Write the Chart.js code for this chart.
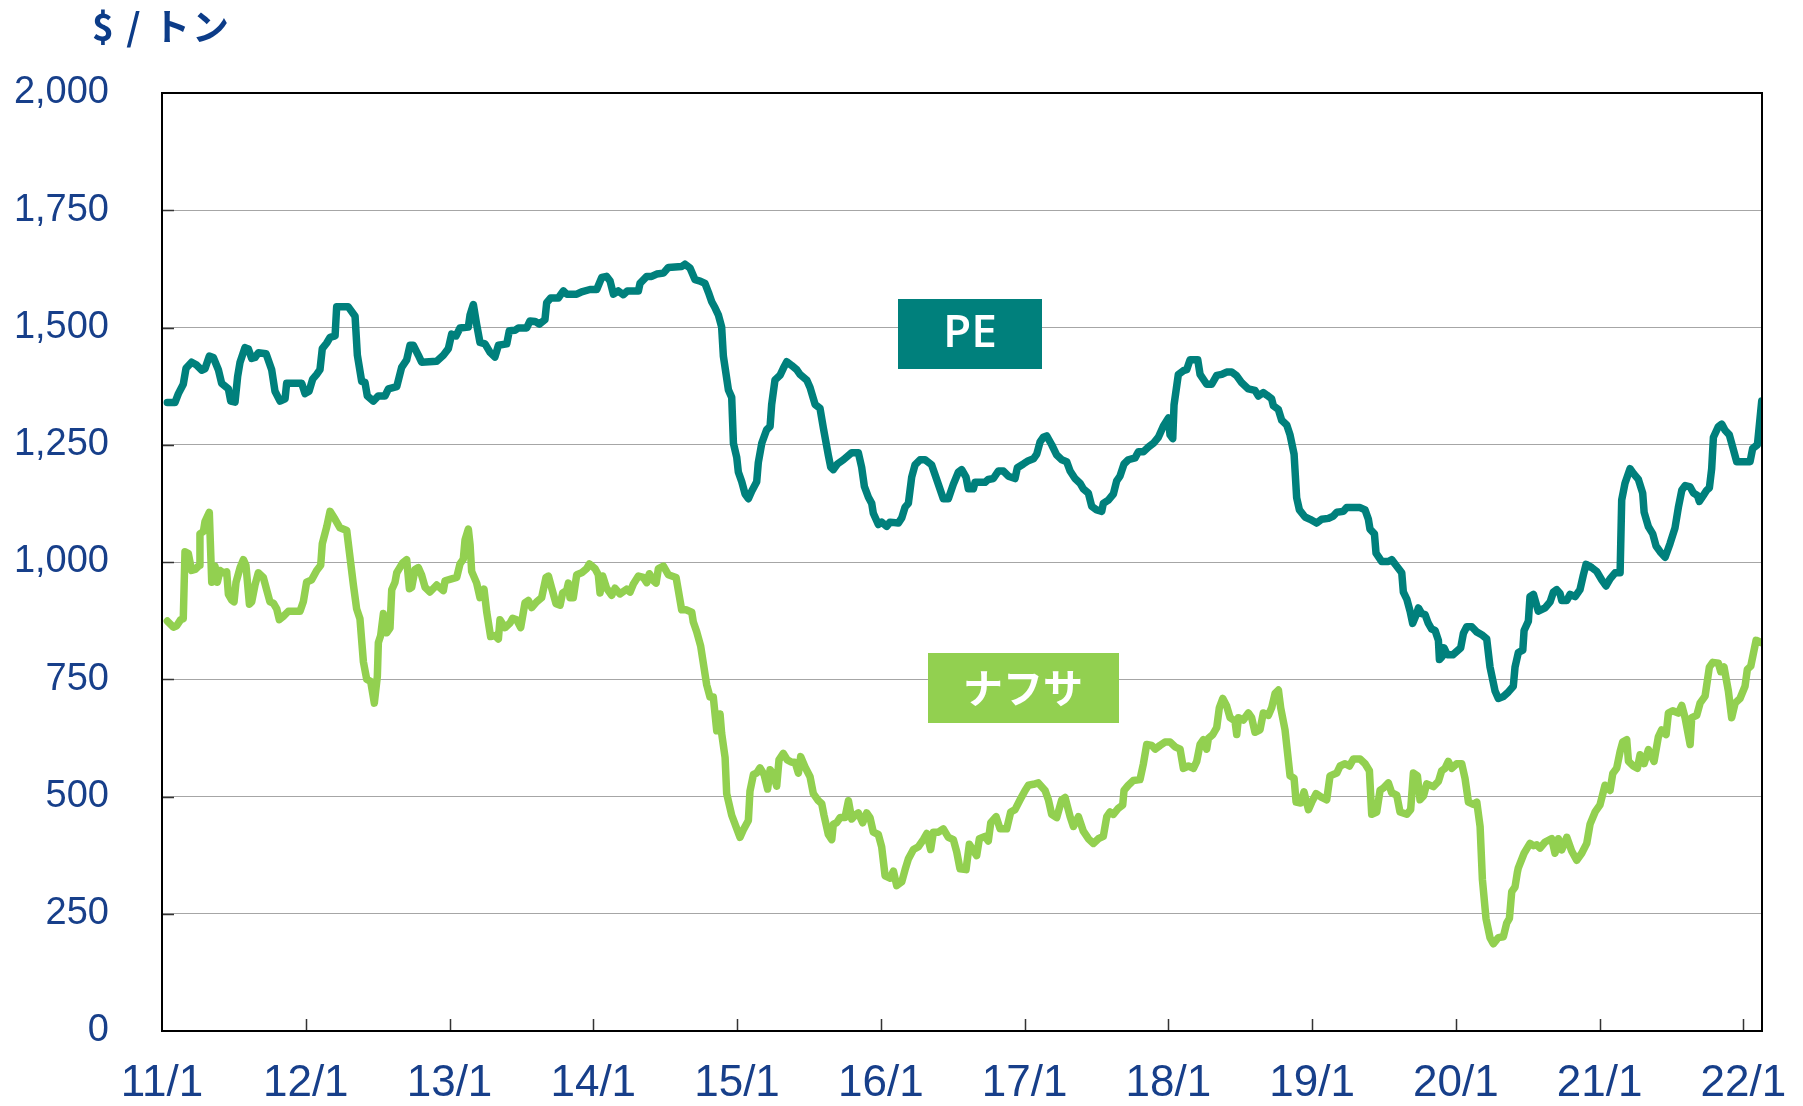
<!DOCTYPE html>
<html><head><meta charset="utf-8">
<script src="https://cdn.jsdelivr.net/npm/chart.js@4.4.1/dist/chart.umd.min.js"></script>
<style>html,body{margin:0;padding:0;background:#fff;overflow:hidden}canvas{display:block}</style>
</head><body>
<canvas id="c" width="1803" height="1106"></canvas>
<script>
const unitLabel = '$ / トン';
const seriesNames = ['PE', 'ナフサ'];
const xTickYears = [2011,2012,2013,2014,2015,2016,2017,2018,2019,2020,2021,2022];
const xTickLabels = ['11/1','12/1','13/1','14/1','15/1','16/1','17/1','18/1','19/1','20/1','21/1','22/1'];
const yTickValues = [0,250,500,750,1000,1250,1500,1750,2000];
const yTickLabels = ['0','250','500','750','1,000','1,250','1,500','1,750','2,000'];

// [date (decimal year), $/ton]
const peSeries = [
[2011.037,1340],[2011.090,1340],[2011.114,1359],[2011.148,1379],[2011.167,1413],[2011.206,1426],[2011.241,1420],[2011.276,1409],[2011.299,1412],[2011.329,1439],[2011.357,1436],[2011.392,1410],[2011.415,1381],[2011.462,1369],[2011.478,1343],[2011.508,1341],[2011.526,1395],[2011.543,1426],[2011.577,1457],[2011.601,1454],[2011.624,1434],[2011.647,1436],[2011.670,1446],[2011.724,1444],[2011.763,1410],[2011.786,1364],[2011.821,1343],[2011.856,1348],[2011.867,1381],[2011.972,1381],[2011.995,1359],
[2012.023,1364],[2012.048,1390],[2012.076,1400],[2012.099,1410],[2012.115,1455],[2012.146,1467],[2012.169,1479],[2012.204,1482],[2012.215,1544],[2012.296,1544],[2012.343,1524],[2012.359,1441],[2012.389,1385],[2012.412,1383],[2012.428,1354],[2012.470,1343],[2012.505,1354],[2012.551,1354],[2012.575,1369],[2012.633,1374],[2012.667,1415],[2012.702,1431],[2012.725,1462],[2012.748,1462],[2012.783,1441],[2012.806,1426],[2012.911,1428],
[2012.957,1441],[2012.992,1455],[2013.015,1486],[2013.045,1482],[2013.073,1499],[2013.131,1501],[2013.143,1527],[2013.166,1549],[2013.189,1506],[2013.212,1468],[2013.247,1465],[2013.282,1447],[2013.316,1437],[2013.340,1462],[2013.398,1465],[2013.416,1493],[2013.456,1494],[2013.479,1499],[2013.537,1499],[2013.560,1514],[2013.595,1513],[2013.625,1507],[2013.664,1517],[2013.676,1553],[2013.704,1563],[2013.757,1563],[2013.792,1578],[2013.815,1571],[2013.885,1571],[2013.919,1576],[2013.977,1581],
[2014.024,1581],[2014.059,1607],[2014.093,1609],[2014.117,1599],[2014.140,1571],[2014.174,1578],[2014.209,1570],[2014.237,1578],[2014.314,1578],[2014.325,1594],[2014.372,1609],[2014.406,1609],[2014.441,1614],[2014.488,1616],[2014.522,1628],[2014.615,1630],[2014.638,1635],[2014.673,1627],[2014.708,1602],[2014.743,1599],
[2014.777,1594],[2014.801,1575],[2014.824,1555],[2014.847,1542],[2014.870,1527],[2014.893,1501],[2014.905,1439],[2014.940,1367],[2014.963,1351],[2014.975,1253],[2014.998,1223],[2015.009,1192],[2015.033,1171],[2015.056,1145],[2015.079,1135],[2015.102,1151],[2015.137,1171],[2015.148,1212],[2015.172,1253],[2015.206,1282],[2015.230,1289],[2015.241,1336],[2015.264,1388],[2015.299,1398],[2015.322,1413],[2015.346,1427],[2015.380,1419],[2015.415,1410],[2015.438,1400],[2015.485,1388],[2015.508,1372],[2015.543,1336],[2015.577,1328],[2015.601,1285],[2015.635,1228],[2015.652,1202],[2015.670,1197],[2015.698,1209],[2015.740,1218],[2015.798,1233],[2015.844,1233],[2015.867,1202],[2015.886,1161],[2015.914,1138],[2015.937,1125],[2015.948,1104],[2015.983,1080],
[2016.006,1085],[2016.041,1076],[2016.064,1085],[2016.122,1083],[2016.146,1094],[2016.169,1117],[2016.192,1125],[2016.215,1181],[2016.238,1207],[2016.273,1218],[2016.308,1218],[2016.354,1207],[2016.389,1176],[2016.435,1135],[2016.470,1135],[2016.505,1166],[2016.540,1192],[2016.563,1197],[2016.593,1181],[2016.609,1156],[2016.644,1156],
[2016.656,1170],[2016.725,1170],[2016.748,1176],[2016.783,1178],[2016.818,1194],[2016.853,1194],[2016.888,1183],[2016.934,1178],[2016.950,1201],[2016.992,1209],[2017.027,1216],[2017.062,1220],[2017.085,1230],[2017.108,1256],[2017.131,1266],[2017.154,1269],[2017.189,1250],[2017.224,1228],[2017.259,1218],[2017.293,1214],[2017.317,1194],[2017.351,1178],[2017.386,1168],[2017.409,1156],[2017.444,1147],[2017.467,1119],[2017.502,1111],[2017.537,1108],[2017.548,1125],[2017.583,1132],[2017.618,1145],[2017.641,1173],[2017.664,1183],[2017.692,1209],[2017.722,1218],[2017.769,1222],[2017.792,1235],[2017.827,1235],[2017.862,1245],[2017.896,1253],[2017.931,1266],[2017.966,1290],
[2018.001,1307],[2018.012,1271],[2018.031,1263],[2018.040,1335],[2018.070,1400],[2018.105,1408],[2018.128,1410],[2018.151,1431],[2018.205,1431],[2018.221,1400],[2018.267,1379],[2018.302,1379],[2018.337,1398],[2018.372,1400],[2018.406,1405],[2018.441,1405],[2018.476,1397],[2018.511,1382],
[2018.557,1369],[2018.603,1366],[2018.627,1354],[2018.661,1361],[2018.685,1356],[2018.719,1348],[2018.731,1333],[2018.766,1325],[2018.789,1302],[2018.824,1292],[2018.847,1271],[2018.875,1230],[2018.893,1137],[2018.912,1111],[2018.951,1096],[2018.986,1091],[2019.032,1083],[2019.067,1091],[2019.114,1093],[2019.148,1098],[2019.172,1106],[2019.218,1108],[2019.241,1116],[2019.334,1116],[2019.369,1111],[2019.392,1091],[2019.403,1070],[2019.434,1060],[2019.445,1019],[2019.485,1001],[2019.531,1001],[2019.554,1005],[2019.584,993],[2019.624,977],[2019.635,936],[2019.659,921],[2019.682,895],[2019.700,869],[2019.728,890],[2019.740,902],[2019.763,890],[2019.786,888],[2019.809,869],[2019.832,857],[2019.856,854],[2019.879,833],[2019.886,792],[2019.902,797],[2019.918,817],[2019.941,802],[2019.979,802],
[2020.034,817],[2020.053,848],[2020.076,862],[2020.111,862],[2020.145,851],[2020.180,845],[2020.215,836],[2020.238,776],[2020.273,725],[2020.296,709],[2020.331,713],[2020.366,723],[2020.400,735],
[2020.412,776],[2020.435,807],[2020.466,812],[2020.475,854],[2020.505,874],[2020.516,926],[2020.540,931],[2020.574,895],[2020.621,902],[2020.656,915],[2020.679,936],[2020.702,941],[2020.725,933],[2020.737,918],[2020.772,918],[2020.795,931],[2020.830,926],[2020.864,941],[2020.887,972],[2020.906,995],[2020.946,988],[2020.980,980],
[2021.015,962],[2021.045,949],[2021.073,964],[2021.108,977],[2021.143,977],[2021.154,1132],[2021.177,1168],[2021.212,1199],[2021.235,1189],[2021.270,1176],[2021.300,1147],[2021.310,1106],[2021.340,1075],[2021.370,1060],[2021.393,1034],[2021.421,1022],[2021.456,1010],[2021.490,1039],[2021.525,1073],[2021.548,1116],[2021.572,1153],[2021.595,1163],[2021.630,1160],[2021.653,1147],[2021.681,1142],[2021.694,1129],[2021.722,1142],[2021.745,1153],[2021.764,1158],[2021.780,1199],[2021.792,1266],[2021.827,1289],[2021.850,1294],[2021.873,1281],[2021.903,1271],[2021.926,1245],[2021.954,1214],
[2022.047,1214],[2022.065,1242],[2022.098,1250],[2022.128,1343]
];

const naphthaSeries = [
[2011.037,874],[2011.079,861],[2011.102,864],[2011.130,877],[2011.148,879],[2011.160,1022],[2011.183,1018],[2011.206,982],[2011.230,984],[2011.260,993],[2011.264,1060],[2011.288,1065],[2011.299,1086],[2011.329,1106],[2011.346,957],[2011.369,991],[2011.385,957],[2011.404,982],[2011.427,977],[2011.450,979],[2011.462,931],[2011.485,919],[2011.501,915],[2011.515,957],[2011.543,988],[2011.566,1005],[2011.584,993],[2011.608,910],[2011.624,915],[2011.647,951],[2011.670,977],[2011.705,967],[2011.728,941],[2011.751,915],[2011.775,912],[2011.798,900],[2011.816,877],[2011.844,884],[2011.879,895],[2011.960,895],[2011.983,915],
[2012.006,957],[2012.041,962],[2012.076,982],[2012.104,993],[2012.115,1039],[2012.146,1075],[2012.169,1108],[2012.204,1091],[2012.238,1073],[2012.285,1067],[2012.331,952],[2012.354,900],[2012.377,879],[2012.401,787],[2012.424,750],[2012.452,745],[2012.477,699],[2012.498,756],[2012.505,828],[2012.521,843],[2012.540,890],[2012.563,849],[2012.586,859],[2012.598,941],[2012.621,957],[2012.633,977],[2012.674,998],[2012.702,1005],[2012.721,943],[2012.737,946],[2012.760,984],[2012.783,988],[2012.806,972],[2012.830,946],[2012.864,936],[2012.911,951],
[2012.957,939],[2012.969,960],[2013.003,963],[2013.050,967],[2013.073,996],[2013.096,1006],[2013.108,1047],[2013.131,1070],[2013.143,1037],[2013.154,980],[2013.189,955],[2013.212,924],[2013.240,942],[2013.259,893],[2013.286,841],[2013.316,843],[2013.340,836],[2013.351,877],[2013.386,860],[2013.421,870],[2013.439,880],[2013.467,877],[2013.495,860],[2013.525,913],[2013.548,918],[2013.572,903],[2013.606,915],[2013.641,924],[2013.671,967],[2013.688,970],[2013.711,944],[2013.741,911],[2013.769,908],[2013.787,934],[2013.815,939],[2013.827,955],[2013.838,924],[2013.861,924],[2013.885,973],[2013.919,977],[2013.954,986],[2013.973,996],
[2014.012,986],[2014.035,973],[2014.047,934],[2014.066,970],[2014.093,944],[2014.128,929],[2014.151,944],[2014.186,932],[2014.232,942],[2014.256,936],[2014.279,953],[2014.314,970],[2014.348,967],[2014.372,956],[2014.390,975],[2014.418,960],[2014.437,955],[2014.453,986],[2014.488,991],[2014.522,973],[2014.576,967],[2014.592,939],[2014.615,898],[2014.645,898],[2014.685,893],[2014.696,872],[2014.719,852],[2014.747,821],
[2014.789,738],[2014.812,712],[2014.835,712],[2014.859,640],[2014.882,676],[2014.893,635],[2014.917,583],[2014.928,506],[2014.963,460],[2015.021,413],[2015.044,429],[2015.079,449],[2015.090,511],[2015.114,547],[2015.137,550],[2015.160,561],[2015.188,547],[2015.213,516],[2015.230,557],[2015.253,547],[2015.276,522],[2015.292,578],[2015.322,592],[2015.350,578],[2015.380,573],[2015.404,573],[2015.427,550],[2015.443,585],[2015.473,563],[2015.508,542],[2015.531,506],[2015.566,491],[2015.589,485],[2015.605,460],[2015.635,419],[2015.659,408],[2015.670,441],[2015.693,444],[2015.717,455],[2015.751,455],[2015.775,491],[2015.798,452],[2015.821,460],[2015.844,465],[2015.874,444],[2015.902,465],[2015.925,455],[2015.948,424],[2015.983,419],
[2016.006,393],[2016.030,331],[2016.064,326],[2016.088,341],[2016.111,310],[2016.146,318],[2016.169,344],[2016.192,367],[2016.227,387],[2016.262,393],[2016.296,408],[2016.320,421],[2016.347,387],[2016.366,424],[2016.401,424],[2016.435,431],[2016.470,413],[2016.505,408],[2016.528,382],[2016.551,346],[2016.593,344],[2016.616,398],
[2016.667,374],[2016.686,410],[2016.725,415],[2016.748,405],[2016.765,444],[2016.802,457],[2016.830,431],[2016.876,431],[2016.904,467],[2016.934,472],[2016.969,493],[2017.004,513],[2017.027,524],[2017.062,526],[2017.096,529],[2017.143,513],[2017.166,493],[2017.189,462],[2017.224,455],[2017.259,493],[2017.282,498],[2017.317,457],[2017.340,436],[2017.375,457],[2017.409,426],[2017.444,410],[2017.479,400],[2017.514,410],[2017.548,415],[2017.572,457],[2017.595,467],[2017.618,462],[2017.653,475],[2017.683,482],[2017.692,513],[2017.722,524],[2017.757,534],[2017.803,536],[2017.827,570],[2017.850,611],[2017.885,609],[2017.908,601],[2017.943,609],[2017.977,616],
[2018.012,616],[2018.047,606],[2018.082,601],[2018.105,560],[2018.140,565],[2018.175,560],[2018.198,575],[2018.221,611],[2018.244,621],[2018.267,601],[2018.279,624],[2018.309,632],[2018.337,647],[2018.355,689],[2018.379,709],[2018.406,693],[2018.430,668],[2018.464,661],[2018.476,632],[2018.488,668],[2018.522,663],
[2018.557,678],[2018.580,668],[2018.603,637],[2018.638,642],[2018.661,678],[2018.696,673],[2018.719,689],[2018.743,720],[2018.766,727],[2018.782,689],[2018.812,642],[2018.847,544],[2018.875,539],[2018.889,488],[2018.921,486],[2018.944,510],[2018.975,472],[2018.998,488],[2019.028,506],[2019.067,498],[2019.102,493],[2019.125,544],[2019.172,550],[2019.195,565],[2019.230,570],[2019.260,565],[2019.288,580],[2019.334,580],[2019.369,570],[2019.399,555],[2019.415,462],[2019.450,467],[2019.473,513],[2019.496,518],[2019.531,529],[2019.554,508],[2019.589,503],[2019.612,467],[2019.659,462],[2019.686,472],[2019.705,550],[2019.733,544],[2019.751,493],[2019.775,501],[2019.798,527],[2019.844,521],[2019.879,532],[2019.902,555],[2019.925,560],[2019.948,575],[2019.972,560],
[2020.006,570],[2020.041,570],[2020.064,539],[2020.088,488],[2020.122,483],[2020.146,488],[2020.169,436],[2020.185,323],[2020.210,240],[2020.238,199],[2020.261,186],[2020.296,199],[2020.331,201],[2020.354,230],[2020.373,240],[2020.389,297],[2020.412,307],[2020.428,338],
[2020.435,348],[2020.475,379],[2020.516,400],[2020.540,395],[2020.563,397],[2020.586,390],[2020.621,403],[2020.667,410],[2020.690,379],[2020.714,410],[2020.737,386],[2020.772,413],[2020.806,384],[2020.841,364],[2020.876,379],[2020.911,400],[2020.934,441],[2020.969,467],
[2021.003,482],[2021.038,524],[2021.073,513],[2021.092,549],[2021.119,560],[2021.143,596],[2021.161,616],[2021.189,621],[2021.201,575],[2021.235,565],[2021.263,560],[2021.282,589],[2021.310,570],[2021.340,600],[2021.379,575],[2021.409,627],[2021.432,642],[2021.463,632],[2021.479,678],[2021.509,683],[2021.548,678],[2021.572,694],[2021.595,668],[2021.630,611],[2021.641,668],[2021.676,673],[2021.699,699],[2021.734,714],[2021.764,776],[2021.787,786],[2021.827,784],[2021.843,766],[2021.866,776],[2021.896,725],[2021.919,668],[2021.943,699],[2021.977,709],
[2022.012,735],[2022.028,771],[2022.052,778],[2022.089,833],[2022.128,828]
];

const peColor = '#00807C';
const naphthaColor = '#92D050';
const textBlue = '#173F8A';

const framePlugin = {
  id: 'frame',
  afterDraw(chart) {
    const { ctx, chartArea: a, scales: { x, y } } = chart;
    ctx.save();
    ctx.strokeStyle = '#333';
    ctx.lineWidth = 1.5;
    ctx.beginPath();
    yTickValues.forEach(v => {
      if (v === yTickValues[0] || v === yTickValues[yTickValues.length - 1]) return;
      const py = Math.round(y.getPixelForValue(v)) + 0.5;
      ctx.moveTo(a.left, py); ctx.lineTo(a.left + 12, py);
    });
    xTickYears.forEach((v, i) => {
      if (i === 0) return;
      const px = Math.round(x.getPixelForValue(v)) + 0.5;
      ctx.moveTo(px, a.bottom); ctx.lineTo(px, a.bottom - 12);
    });
    ctx.stroke();
    ctx.strokeStyle = '#000';
    ctx.lineWidth = 2;
    ctx.strokeRect(a.left, a.top, a.right - a.left, a.bottom - a.top);
    // unit title
    ctx.fillStyle = '#0C3C88';
    ctx.font = 'bold 37px "Noto Sans CJK JP", sans-serif';
    ctx.textAlign = 'left';
    ctx.textBaseline = 'middle';
    if ('letterSpacing' in ctx) ctx.letterSpacing = '2px';
    ctx.fillText(unitLabel, 92, 27);
    ctx.restore();
  }
};

const tagPlugin = {
  id: 'tags',
  afterDatasetsDraw(chart) {
    const { ctx, scales: { x, y } } = chart;
    const tags = [
      { text: seriesNames[0], at: [2016.621, 1486], w: 144, h: 70, fill: peColor, font: '600 46px "Open Sans", sans-serif' },
      { text: seriesNames[1], at: [2016.99, 731], w: 191, h: 70, fill: naphthaColor, font: 'bold 40px "Noto Sans CJK JP", sans-serif' }
    ];
    ctx.save();
    tags.forEach(t => {
      const cx = x.getPixelForValue(t.at[0]);
      const cy = y.getPixelForValue(t.at[1]);
      ctx.fillStyle = t.fill;
      ctx.fillRect(Math.round(cx - t.w / 2), Math.round(cy - t.h / 2), t.w, t.h);
      ctx.fillStyle = '#fff';
      ctx.font = t.font;
      ctx.textAlign = 'center';
      ctx.textBaseline = 'middle';
      ctx.fillText(t.text, cx, cy);
    });
    ctx.restore();
  }
};

new Chart(document.getElementById('c'), {
  type: 'line',
  data: {
    datasets: [
      { label: seriesNames[0], data: peSeries.map(p => ({ x: p[0], y: p[1] })), borderColor: peColor, borderWidth: 7.5, pointRadius: 0, tension: 0, borderJoinStyle: 'round', borderCapStyle: 'round', fill: false },
      { label: seriesNames[1], data: naphthaSeries.map(p => ({ x: p[0], y: p[1] })), borderColor: naphthaColor, borderWidth: 7.5, pointRadius: 0, tension: 0, borderJoinStyle: 'round', borderCapStyle: 'round', fill: false }
    ]
  },
  options: {
    responsive: false,
    animation: false,
    devicePixelRatio: 1,
    layout: { padding: { top: 93, right: 41, left: 0, bottom: 0 } },
    plugins: { legend: { display: false }, title: { display: false }, tooltip: { enabled: false } },
    scales: {
      x: {
        type: 'linear',
        min: 2011,
        max: 2022.13,
        afterBuildTicks(scale) { scale.ticks = xTickYears.map(v => ({ value: v })); },
        afterFit(scale) { scale.height = 75; scale.paddingLeft = 0; scale.paddingRight = 0; },
        grid: { display: false, drawTicks: false },
        border: { display: false },
        ticks: {
          autoSkip: false, maxRotation: 0, minRotation: 0, padding: 26,
          color: textBlue,
          font: { family: '"Liberation Sans", Arial, sans-serif', size: 44 },
          callback(v) { const i = xTickYears.indexOf(v); return i >= 0 ? xTickLabels[i] : ''; }
        }
      },
      y: {
        min: 0,
        max: 2000,
        afterBuildTicks(scale) { scale.ticks = yTickValues.map(v => ({ value: v })); },
        afterFit(scale) { scale.width = 162; scale.paddingTop = 0; scale.paddingBottom = 0; },
        grid: { color: '#A6A6A6', lineWidth: 1, drawTicks: false },
        border: { display: false },
        ticks: {
          padding: 53,
          color: textBlue,
          font: { family: '"Liberation Sans", Arial, sans-serif', size: 38 },
          callback(v) { const i = yTickValues.indexOf(v); return i >= 0 ? yTickLabels[i] : ''; }
        }
      }
    }
  },
  plugins: [tagPlugin, framePlugin]
});
</script>
</body></html>
